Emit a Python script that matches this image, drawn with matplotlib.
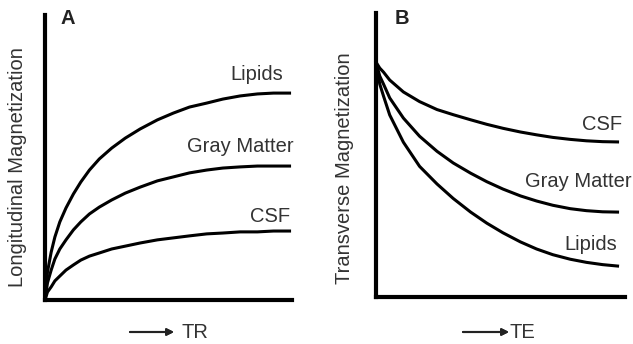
import numpy as np
import matplotlib.pyplot as plt

plt.rcParams['font.family'] = ['Liberation Sans', 'DejaVu Sans']

# --- panel A: longitudinal recovery vs TR (arbitrary units) ---
tr = [0, 0.1, 0.25, 0.4, 0.6, 0.85, 1.15, 1.45, 1.8, 2.2, 2.7, 3.25, 3.85,
      4.55, 5.2, 5.85, 6.55, 7.2, 7.9, 8.6, 9.25, 9.9]
lipids_a = [0, 0.98, 1.68, 2.21, 2.74, 3.23, 3.72, 4.14, 4.56, 4.95, 5.33, 5.68, 6.00,
            6.32, 6.56, 6.77, 6.91, 7.05, 7.16, 7.23, 7.26, 7.26]
gray_a = [0, 0.60, 1.05, 1.44, 1.79, 2.11, 2.46, 2.74, 3.02, 3.26, 3.51, 3.75, 3.96,
          4.18, 4.32, 4.46, 4.56, 4.63, 4.67, 4.70, 4.70, 4.70]
csf_a = [0, 0.28, 0.46, 0.67, 0.84, 1.05, 1.23, 1.40, 1.54, 1.65, 1.79, 1.89, 2.00,
         2.11, 2.18, 2.25, 2.32, 2.35, 2.39, 2.39, 2.42, 2.42]

# --- panel B: transverse decay vs TE (arbitrary units) ---
te = [0, 0.15, 0.3, 0.55, 1.1, 1.75, 2.45, 3.1, 3.8, 4.45, 5.1, 5.8, 6.45,
      7.1, 7.8, 8.45, 9.1, 9.7]
csf_b = [8.27, 8.06, 7.92, 7.64, 7.22, 6.88, 6.60, 6.42, 6.24, 6.08, 5.94, 5.81, 5.71,
         5.62, 5.55, 5.50, 5.47, 5.46]
gray_b = [8.27, 7.78, 7.50, 7.01, 6.30, 5.66, 5.13, 4.72, 4.36, 4.06, 3.80, 3.56, 3.38,
          3.23, 3.11, 3.04, 3.00, 2.99]
lipids_b = [8.27, 7.50, 7.08, 6.41, 5.45, 4.60, 3.98, 3.47, 2.99, 2.60, 2.26, 1.94, 1.69,
            1.49, 1.33, 1.22, 1.14, 1.09]

W, H = 633, 344
fig = plt.figure(figsize=(W / 100, H / 100), dpi=100)
txt = '#333333'


def px_axes(x0, y_top, x1, y_bot):
    return fig.add_axes([x0 / W, 1 - y_bot / H, (x1 - x0) / W, (y_bot - y_top) / H])


def style(ax):
    for s in ['top', 'right']:
        ax.spines[s].set_visible(False)
    for s in ['left', 'bottom']:
        ax.spines[s].set_linewidth(3)
        ax.spines[s].set_color('black')
    ax.set_xticks([])
    ax.set_yticks([])
    ax.set_xlim(0, 10)
    ax.set_ylim(0, 10)


def ftext(x, y, s, **kw):
    kw.setdefault('color', txt)
    kw.setdefault('fontsize', 14.5)
    fig.text(x / W, 1 - y / H, s, ha='center', va='center', **kw)


def arrow(x0, x1, y):
    fig.add_artist(plt.annotate('', xy=(x1 / W, 1 - y / H), xytext=(x0 / W, 1 - y / H),
                                xycoords='figure fraction',
                                arrowprops=dict(arrowstyle='-|>', color='#222222', lw=1.5,
                                                mutation_scale=10, shrinkA=0, shrinkB=0)))


# panel A
axA = px_axes(45, 15, 292, 300)
style(axA)
for y in (lipids_a, gray_a, csf_a):
    axA.plot(tr, y, color='black', lw=2.2, clip_on=False, solid_joinstyle='round')

ftext(68, 18, 'A', fontweight='bold', color='#222222')
ftext(257, 75, 'Lipids')
ftext(240, 147, 'Gray Matter')
ftext(270, 217, 'CSF')
ftext(18, 167, 'Longitudinal Magnetization', rotation=90)
arrow(130, 174, 332)
ftext(195, 332, 'TR')

# panel B
axB = px_axes(376, 13, 625, 297)
style(axB)
for y in (csf_b, gray_b, lipids_b):
    axB.plot(te, y, color='black', lw=2.2, clip_on=False, solid_joinstyle='round')

ftext(402, 18, 'B', fontweight='bold', color='#222222')
ftext(602, 125, 'CSF')
ftext(578, 181, 'Gray Matter')
ftext(591, 245, 'Lipids')
ftext(345, 168, 'Transverse Magnetization', rotation=90)
arrow(463, 509, 332)
ftext(522, 332, 'TE')

fig.savefig('out.png', dpi=100)
